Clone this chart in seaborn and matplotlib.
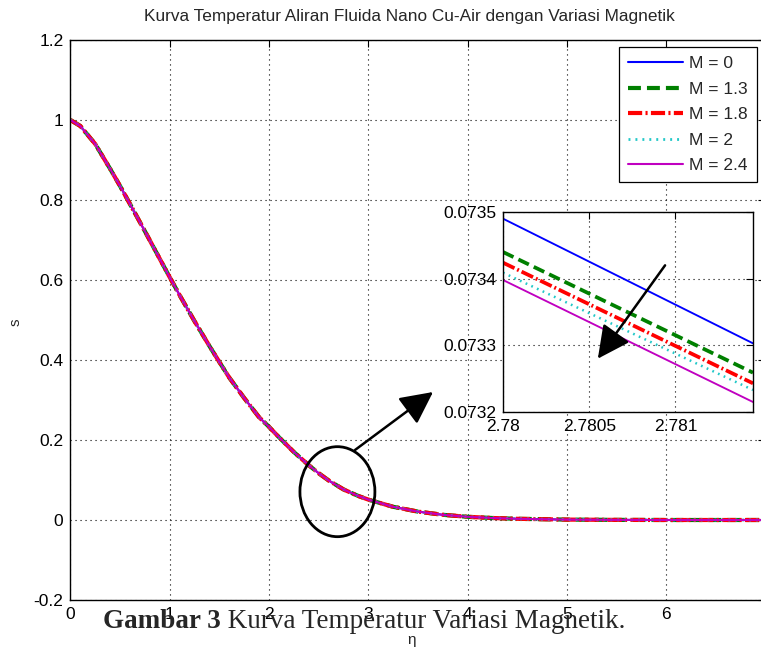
import matplotlib
matplotlib.use("Agg")
import matplotlib.pyplot as plt
import seaborn as sns
from matplotlib.patches import Ellipse

# ---------------- data ----------------
title_text = "Kurva Temperatur Aliran Fluida Nano Cu-Air dengan Variasi Magnetik"
series_labels = ["M = 0", "M = 1.3", "M = 1.8", "M = 2", "M = 2.4"]

# main curve (all five series coincide at this scale)
eta = [0.0, 0.1, 0.25, 0.4, 0.5, 0.6, 0.75, 0.9, 1.0, 1.1, 1.25, 1.4, 1.5, 1.6,
       1.75, 1.9, 2.0, 2.1, 2.25, 2.4, 2.5, 2.6, 2.75, 2.9, 3.0, 3.25, 3.5,
       3.75, 4.0, 4.25, 4.5, 5.0, 5.5, 6.0, 6.5, 7.0]
s_curve = [1.0, 0.985, 0.94, 0.878, 0.835, 0.79, 0.722, 0.653, 0.607, 0.562,
           0.497, 0.435, 0.395, 0.356, 0.305, 0.257, 0.233, 0.207, 0.17, 0.137,
           0.117, 0.099, 0.0765, 0.060, 0.051, 0.033, 0.021, 0.013, 0.008,
           0.005, 0.003, 0.001, 0.0003, 0.0, 0.0, 0.0]

# zoomed detail near eta = 2.78
inset_eta = [2.78, 2.78145]
inset_M0 = [0.07349, 0.073303]
inset_M13 = [0.07344, 0.073259]
inset_M18 = [0.073424, 0.073243]
inset_M2 = [0.073409, 0.073233]
inset_M24 = [0.073398, 0.073215]
inset_series = [inset_M0, inset_M13, inset_M18, inset_M2, inset_M24]

x_ticks = [0, 1, 2, 3, 4, 5, 6]
x_tick_labels = ["0", "1", "2", "3", "4", "5", "6"]
y_ticks = [-0.2, 0.0, 0.2, 0.4, 0.6, 0.8, 1.0, 1.2]
y_tick_labels = ["-0.2", "0", "0.2", "0.4", "0.6", "0.8", "1", "1.2"]
inset_x_ticks = [2.78, 2.7805, 2.781]
inset_x_labels = ["2.78", "2.7805", "2.781"]
inset_y_ticks = [0.0732, 0.0733, 0.0734, 0.0735]
inset_y_labels = ["0.0732", "0.0733", "0.0734", "0.0735"]

# ---------------- styles ----------------
colors = ["#0000ff", "#008000", "#ff0000", "#22c8c8", "#c000c0"]
widths = [1.5, 3.0, 3.0, 2.0, 1.5]
styles = ["-", (0, (3.1, 1.45)), (0, (3.4, 0.8, 0.5, 0.8)), (0, (0.7, 1.8)), "-"]

sns.set_style("white")
plt.rcParams["font.family"] = ["Liberation Sans", "DejaVu Sans"]
plt.rcParams["axes.edgecolor"] = "black"

W, H = 761, 648
fig = plt.figure(figsize=(W / 100, H / 100), dpi=100)
fig.patch.set_facecolor("white")

ax_l, ax_r, ax_t, ax_b = 70.4, 765.5, 40, 600
ax = fig.add_axes([ax_l / W, 1 - ax_b / H, (ax_r - ax_l) / W, (ax_b - ax_t) / H])

handles = []
for lab, c, lw, ls in zip(series_labels, colors, widths, styles):
    sns.lineplot(x=eta, y=s_curve, ax=ax, color=c, linewidth=lw, linestyle=ls,
                 label=lab, errorbar=None, sort=False)
    handles.append(ax.get_lines()[-1])

ax.set_xlim(0, 7)
ax.set_ylim(-0.2, 1.2)
ax.set_xticks(x_ticks)
ax.set_xticklabels(x_tick_labels)
ax.set_yticks(y_ticks)
ax.set_yticklabels(y_tick_labels)
ax.tick_params(direction="in", length=5, width=0.8, top=True, right=True,
               labelsize=12.5, pad=5, colors="black")
ax.grid(True, color="black", linestyle=(0, (1, 3.5)), linewidth=0.8)
for sp in ax.spines.values():
    sp.set_linewidth(1.0)
    sp.set_color("black")

ax.set_xlabel("\u03b7", fontsize=11)
ax.set_ylabel("s", fontsize=11)
ax.xaxis.set_label_coords((412 - ax_l) / (ax_r - ax_l), (ax_b - 633) / (ax_b - ax_t))
ax.yaxis.set_label_coords((23 - ax_l) / (ax_r - ax_l), (ax_b - 322) / (ax_b - ax_t))

fig.text(409 / W, 1 - 16 / H, title_text, ha="center", va="center", fontsize=12.4)

leg = ax.legend(handles=handles, labels=series_labels, loc="upper right",
                bbox_to_anchor=(756.7 / W, 1 - 47.3 / H), bbox_transform=fig.transFigure,
                borderaxespad=0, fontsize=12.5, handlelength=3.2, handletextpad=0.35,
                labelspacing=0.6, borderpad=0.5, fancybox=False, framealpha=1,
                edgecolor="black")
leg.get_frame().set_linewidth(0.9)

# ellipse and arrow on main axes
ax.add_patch(Ellipse((2.689, 0.0708), 0.755, 0.225, fill=False, edgecolor="black",
                     linewidth=2.0, zorder=6))
ax.annotate("", xy=(3.652, 0.32), xytext=(2.866, 0.175),
            arrowprops=dict(arrowstyle="-|>,head_length=1.0,head_width=0.5",
                            color="black", lw=1.8, mutation_scale=20,
                            shrinkA=0, shrinkB=0), zorder=6)

# ---------------- inset ----------------
in_l, in_r, in_t, in_b = 503, 753, 212, 412
axin = fig.add_axes([in_l / W, 1 - in_b / H, (in_r - in_l) / W, (in_b - in_t) / H])
axin.set_facecolor("white")
for lab, c, lw, ls, ys in zip(series_labels, colors, widths, styles, inset_series):
    sns.lineplot(x=inset_eta, y=ys, ax=axin, color=c, linewidth=lw * 0.9, linestyle=ls,
                 errorbar=None, sort=False, legend=False)
axin.set_xlim(2.78, 2.78145)
axin.set_ylim(0.0732, 0.0735)
axin.set_xticks(inset_x_ticks)
axin.set_xticklabels(inset_x_labels)
axin.set_yticks(inset_y_ticks)
axin.set_yticklabels(inset_y_labels)
axin.tick_params(direction="in", length=5, width=0.8, top=True, right=True,
                 labelsize=12.5, pad=5, colors="black")
axin.grid(True, color="black", linestyle=(0, (1, 3.5)), linewidth=0.8)
for sp in axin.spines.values():
    sp.set_linewidth(1.0)
    sp.set_color("black")
axin.set_xlabel("")
axin.set_ylabel("")
axin.annotate("", xy=(2.78055, 0.07328), xytext=(2.78094, 0.07342),
              arrowprops=dict(arrowstyle="-|>,head_length=1.0,head_width=0.5",
                              color="black", lw=1.8, mutation_scale=20,
                              shrinkA=0, shrinkB=0))

# ---------------- caption ----------------
cap_y = 1 - 621 / H
cap_size = 19.5
t1 = fig.text(103 / W, cap_y, "Gambar 3", ha="left", va="center", fontsize=cap_size,
              fontweight="bold", family=["Liberation Serif", "DejaVu Serif"])
fig.canvas.draw()
bb = t1.get_window_extent(renderer=fig.canvas.get_renderer())
fig.text(bb.x1 / W, cap_y, " Kurva Temperatur Variasi Magnetik.", ha="left", va="center",
         fontsize=cap_size, family=["Liberation Serif", "DejaVu Serif"])

fig.savefig("out.png", dpi=100, facecolor="white")
